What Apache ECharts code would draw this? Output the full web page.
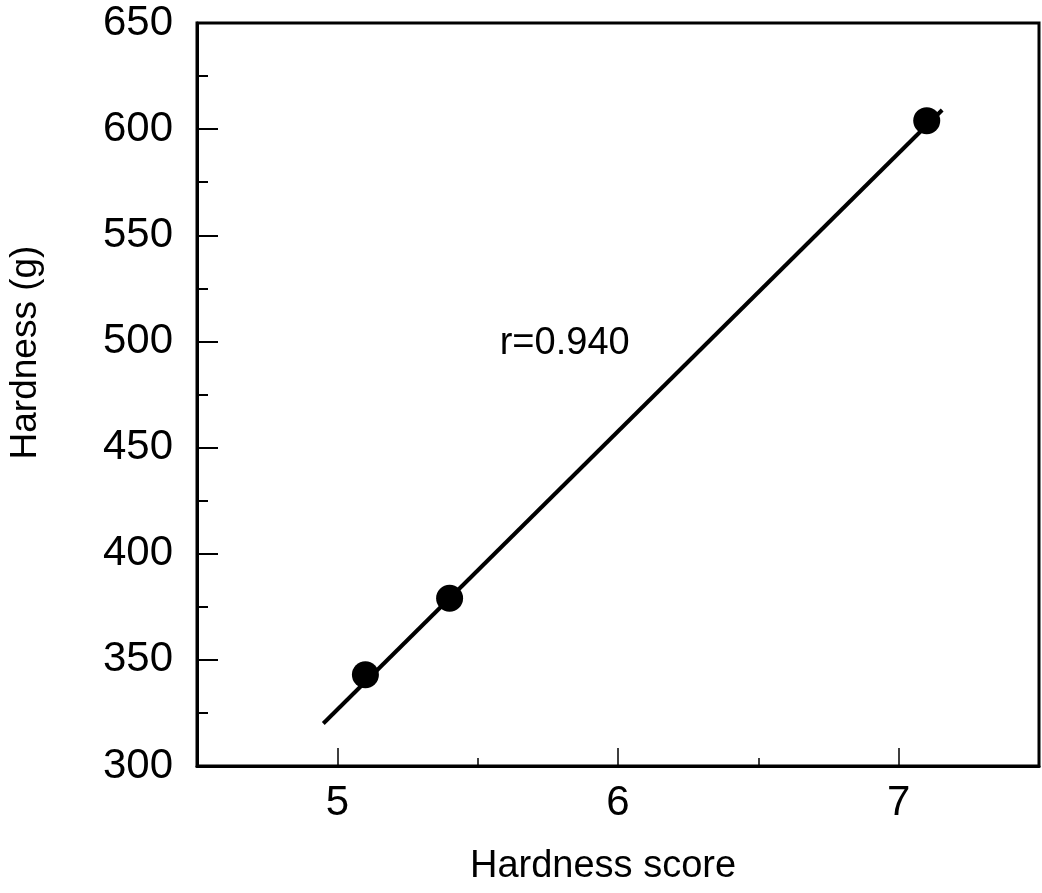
<!DOCTYPE html>
<html>
<head>
<meta charset="utf-8">
<script src="https://cdn.jsdelivr.net/npm/echarts@6/dist/echarts.min.js"></script>
<style>
html,body{margin:0;padding:0;background:#fff;}
#main{width:1042px;height:893px;}
</style>
</head>
<body>
<div id="main"></div>
<script>
// Data
var scoreValues = [5.1, 5.4, 7.1];
var hardnessValues = [343, 379, 604];
var fitLineX = [4.95, 7.155];
var fitLineY = [320, 609];
var xMajorTicks = [5, 6, 7];
var xMinorTicks = [5.5, 6.5];
var annotationText = 'r=0.940';
var annotationPos = [5.81, 499];

var points = scoreValues.map(function (x, i) { return [x, hardnessValues[i]]; });
var fitLine = fitLineX.map(function (x, i) { return [x, fitLineY[i]]; });

var FONT = '"Liberation Sans", Arial, sans-serif';
var chart = echarts.init(document.getElementById('main'));
chart.setOption({
  backgroundColor: '#fff',
  animation: false,
  grid: {
    left: 197, right: 3, top: 23, bottom: 127,
    containLabel: false, outerBoundsMode: 'none',
    show: true, borderColor: '#000', borderWidth: 3, backgroundColor: 'transparent'
  },
  xAxis: [{
    type: 'value', min: 4.5, max: 7.5,
    name: 'Hardness score', nameLocation: 'middle', nameGap: 82,
    nameTextStyle: { fontFamily: FONT, fontSize: 38, color: '#000', padding: [0, 30, 0, 0] },
    axisLine: { show: true, lineStyle: { color: '#000', width: 3 } },
    axisTick: { show: true, inside: true, length: 18, customValues: xMajorTicks, lineStyle: { color: '#000', width: 1.5 } },
    axisLabel: { show: true, customValues: xMajorTicks, margin: 16, fontFamily: FONT, fontSize: 42, color: '#000' },
    splitLine: { show: false }
  }, {
    type: 'value', min: 4.5, max: 7.5, position: 'bottom',
    axisLine: { show: false },
    axisTick: { show: true, inside: true, length: 8, customValues: xMinorTicks, lineStyle: { color: '#000', width: 1.5 } },
    axisLabel: { show: false },
    splitLine: { show: false }
  }],
  yAxis: {
    type: 'value', min: 300, max: 650, interval: 50,
    name: 'Hardness (g)', nameLocation: 'middle', nameGap: 153,
    nameTextStyle: { fontFamily: FONT, fontSize: 37, color: '#000', padding: [0, 0, 0, 84] },
    axisLine: { show: true, lineStyle: { color: '#000', width: 3 } },
    axisTick: { show: true, inside: true, length: 21, lineStyle: { color: '#000', width: 2 } },
    minorTick: { show: true, splitNumber: 2, length: 11, lineStyle: { color: '#000', width: 2 } },
    axisLabel: { margin: 24, fontFamily: FONT, fontSize: 42, color: '#000' },
    splitLine: { show: false }
  },
  series: [{
    type: 'line', data: fitLine, symbol: 'none',
    lineStyle: { color: '#000', width: 4 },
    markPoint: {
      symbol: 'circle', symbolSize: 1,
      itemStyle: { color: 'transparent' },
      label: { show: true, position: 'inside', formatter: annotationText, fontFamily: FONT, fontSize: 38, color: '#000' },
      data: [{ coord: annotationPos }]
    }
  }, {
    type: 'scatter', data: points, symbol: 'circle', symbolSize: 27,
    itemStyle: { color: '#000', opacity: 1 }
  }]
});
</script>
</body>
</html>
